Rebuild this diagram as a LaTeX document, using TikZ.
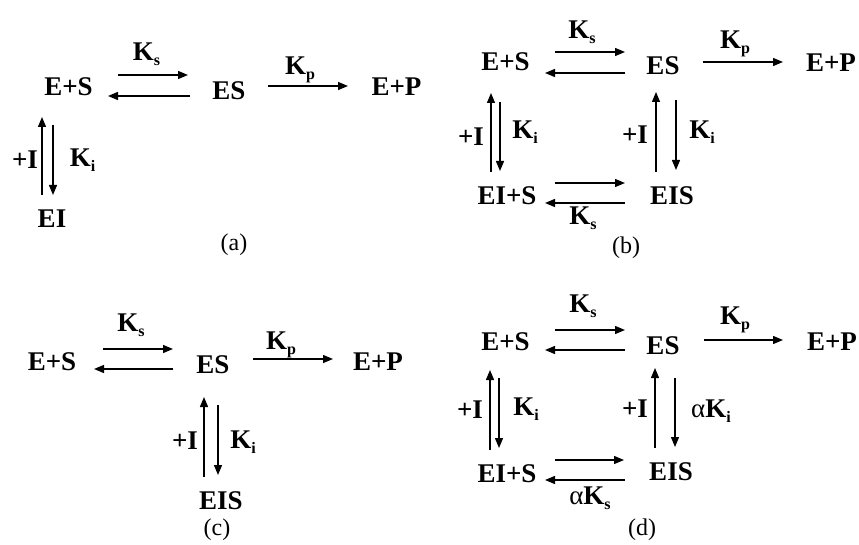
\documentclass[tikz,border=0pt]{standalone}
\usepackage{fontspec}
\setmainfont{Liberation Serif}
\usetikzlibrary{arrows.meta,calc}
% lowered subscript for the rate constants
\newcommand\rsub[1]{\raisebox{-4.5pt}{\fontsize{16}{16}\selectfont #1}}
\tikzset{
  species/.style={font=\bfseries\fontsize{27}{31}\selectfont, inner sep=0pt,
                  text height=17.8pt, text depth=0pt, anchor=center},
  rate/.style={species},
  caption/.style={font=\fontsize{24}{28}\selectfont, inner sep=0pt},
  arr/.style={line width=1.3pt, -{Triangle[length=10pt,width=8pt]}},
}
\begin{document}
\begin{tikzpicture}[x=1pt,y=-1pt]
\useasboundingbox[fill=white] (0,0) rectangle (859,545);

% ---------------- (a) competitive inhibition ----------------
\node[species] (a1) at (68.5,87)  {E+S};
\node[species] (a2) at (229,91)   {ES};
\node[species] (a3) at (396.5,86.5) {E+P};
\node[species] (a4) at (52,219)   {EI};
\node[rate] (aks) at (146.5,52) {K\rsub{s}};
\node[rate] (akp) at (300,66)   {K\rsub{p}};
\node[rate] (ai)  at (25,159.5) {+I};
\node[rate] (aki) at (82.5,158) {K\rsub{i}};
\node[caption] (acap) at (234,245) {(a)};
\draw[arr] ($(a1)+(49.5,-12)$) -- ($(a2)+(-41,-16)$);
\draw[arr] ($(a2)+(-39,5)$) -- ($(a1)+(39.5,9)$);
\draw[arr] ($(a2)+(39,-5)$) -- ($(a3)+(-48.5,-0.5)$);
\draw[arr] ($(a4)+(-10,-24)$) -- ($(a1)+(-26.5,30)$);
\draw[arr] ($(a1)+(-15.5,38)$) -- ($(a4)+(1,-24)$);

% ---------------- (b) non-competitive inhibition ----------------
\node[species] (b1) at (505.5,62) {E+S};
\node[species] (b2) at (663,66)   {ES};
\node[species] (b3) at (831,63)   {E+P};
\node[species] (b4) at (507,196)  {EI+S};
\node[species] (b5) at (672,196)  {EIS};
\node[rate] (bks)  at (582,30)  {K\rsub{s}};
\node[rate] (bkp)  at (735,40)  {K\rsub{p}};
\node[rate] (bil)  at (471,137) {+I};
\node[rate] (bkil) at (525,130) {K\rsub{i}};
\node[rate] (bir)  at (635,135) {+I};
\node[rate] (bkir) at (702,130) {K\rsub{i}};
\node[rate] (bks2) at (583,216) {K\rsub{s}};
\node[caption] (bcap) at (626,248) {(b)};
\draw[arr] ($(b1)+(49.5,-10)$) -- ($(b2)+(-38,-14)$);
\draw[arr] ($(b2)+(-38,7)$) -- ($(b1)+(39.5,11)$);
\draw[arr] ($(b2)+(40,-4)$) -- ($(b3)+(-48,-1)$);
\draw[arr] ($(b4)+(-16,-24)$) -- ($(b1)+(-14.5,31)$);
\draw[arr] ($(b1)+(-5.5,40)$) -- ($(b4)+(-7,-25)$);
\draw[arr] ($(b5)+(-16,-24)$) -- ($(b2)+(-7,26)$);
\draw[arr] ($(b2)+(13,34)$) -- ($(b5)+(4,-26)$);
\draw[arr] ($(b4)+(48,-13)$) -- ($(b5)+(-47,-13)$);
\draw[arr] ($(b5)+(-47,7)$) -- ($(b4)+(38,7)$);

% ---------------- (c) uncompetitive inhibition ----------------
\node[species] (c1) at (52,361.5)  {E+S};
\node[species] (c2) at (213,365)   {ES};
\node[species] (c3) at (378,361.5) {E+P};
\node[species] (c4) at (221,501)   {EIS};
\node[rate] (cks) at (131,323) {K\rsub{s}};
\node[rate] (ckp) at (281,341) {K\rsub{p}};
\node[rate] (ci)  at (185,441) {+I};
\node[rate] (cki) at (243,440) {K\rsub{i}};
\node[caption] (ccap) at (217,530) {(c)};
\draw[arr] ($(c1)+(51,-12.5)$) -- ($(c2)+(-40,-16)$);
\draw[arr] ($(c2)+(-40,4)$) -- ($(c1)+(42,7.5)$);
\draw[arr] ($(c2)+(40,-6)$) -- ($(c3)+(-45,-2.5)$);
\draw[arr] ($(c4)+(-17,-24)$) -- ($(c2)+(-9,32)$);
\draw[arr] ($(c2)+(5,40)$) -- ($(c4)+(-3,-26)$);

% ---------------- (d) mixed inhibition ----------------
\node[species] (d1) at (505.5,342) {E+S};
\node[species] (d2) at (663,346)   {ES};
\node[species] (d3) at (832,342)   {E+P};
\node[species] (d4) at (507,474)   {EI+S};
\node[species] (d5) at (671,472)   {EIS};
\node[rate] (dks)  at (583,304) {K\rsub{s}};
\node[rate] (dkp)  at (735,316) {K\rsub{p}};
\node[rate] (dil)  at (470,410) {+I};
\node[rate] (dkil) at (526,407) {K\rsub{i}};
\node[rate] (dir)  at (635,409) {+I};
\node[rate] (dkir) at (711,409) {{\mdseries α}K\rsub{i}};
\node[rate] (dks2) at (590,496) {{\mdseries α}K\rsub{s}};
\node[caption] (dcap) at (642,530) {(d)};
\draw[arr] ($(d1)+(49.5,-12)$) -- ($(d2)+(-38,-16)$);
\draw[arr] ($(d2)+(-38,4)$) -- ($(d1)+(39.5,8)$);
\draw[arr] ($(d2)+(41,-6)$) -- ($(d3)+(-49,-2)$);
\draw[arr] ($(d4)+(-17,-24)$) -- ($(d1)+(-15.5,28)$);
\draw[arr] ($(d1)+(-6.5,36)$) -- ($(d4)+(-8,-26)$);
\draw[arr] ($(d5)+(-16,-24)$) -- ($(d2)+(-8,22)$);
\draw[arr] ($(d2)+(12,32)$) -- ($(d5)+(4,-25)$);
\draw[arr] ($(d4)+(48,-14)$) -- ($(d5)+(-47,-12)$);
\draw[arr] ($(d5)+(-46,8)$) -- ($(d4)+(38,6)$);
\end{tikzpicture}
\end{document}
